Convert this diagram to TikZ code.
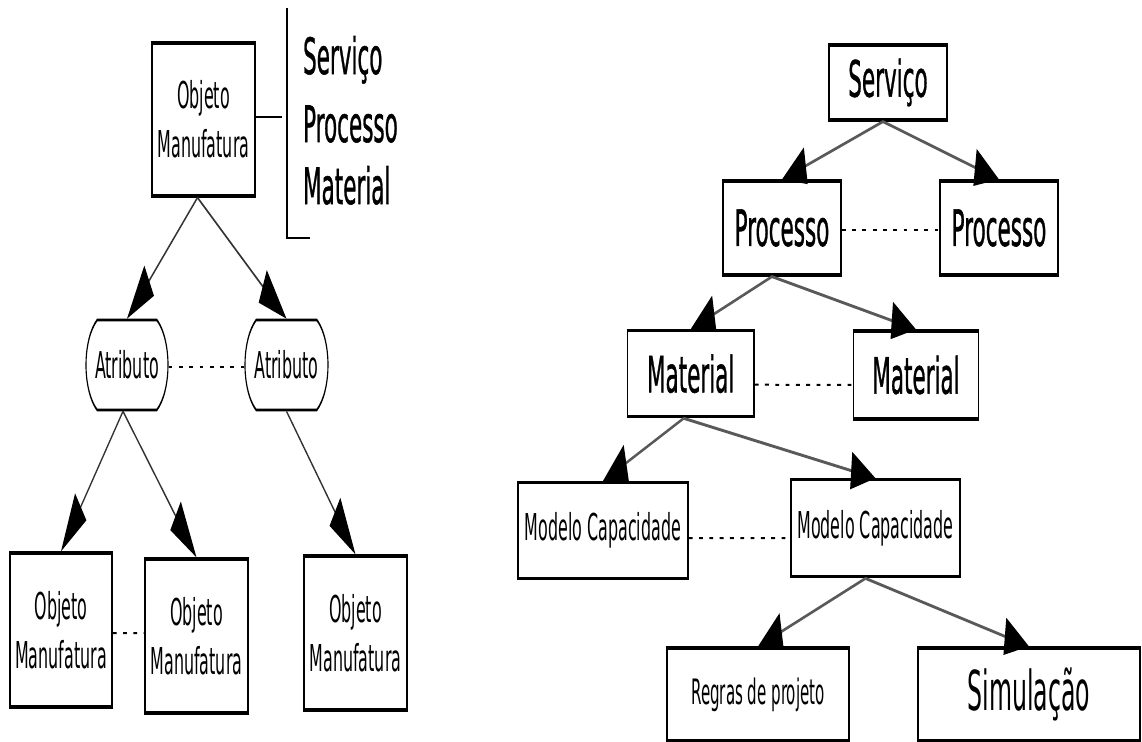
\documentclass[tikz,border=0pt]{standalone}
\usepackage{fontspec}
\setmainfont{DejaVu Sans}
\newfontfamily\heavyfont{DejaVu Sans}[FakeBold=1.2]
\usetikzlibrary{arrows.meta,shapes.misc,calc}

% horizontal compression of the whole drawing
\def\sq{0.43}

\begin{document}
\begin{tikzpicture}[
  sz/.style 2 args={minimum width={#1bp/\sq}, minimum height=#2bp},
  box/.style={draw=black, line width=3.2bp, fill=white, inner sep=0pt, align=center},
  attr/.style={rounded rectangle, rounded rectangle arc length=120, draw=black,
               line width=2.6bp, fill=white, inner sep=0pt},
  fS/.style={font=\fontsize{37bp}{49bp}\selectfont},
  fL/.style={font=\heavyfont\fontsize{50bp}{60bp}\selectfont},
  thinarrow/.style={draw=black!80, line width=2.4bp, -{Triangle[length=64bp,width=37bp,color=black]}},
  thickarrow/.style={draw=black!65, line width=3bp, -{Triangle[length=57bp,width=37bp,color=black]}},
  dots/.style={draw=black, line width=2bp, dash pattern=on 9bp off 15bp},
  bracket/.style={draw=black, line width=2.8bp},
]
\useasboundingbox (0,0) rectangle (1142bp,-742bp);

\begin{scope}[x=1bp/\sq, y=-1bp, transform canvas={xscale=\sq}]

% ---------- left tree ----------
\node[box, sz={103}{153}, fS] (om0) at (203.5,119.5) {Objeto\\Manufatura};
\node[attr, sz={82}{90}, fS] (at1) at (127,365) {Atributo};
\node[attr, sz={83}{90}, fS] (at2) at (286.5,365) {Atributo};
\node[box, sz={102}{154}, fS] (om1) at (61,630) {Objeto\\Manufatura};
\node[box, sz={103}{154}, fS] (om2) at (196.5,636) {Objeto\\Manufatura};
\node[box, sz={103}{154}, fS] (om3) at (355.5,633) {Objeto\\Manufatura};

% list beside the bracket
\node[fL, anchor=base west, inner sep=0pt] (l1) at (303,74) {Serviço};
\node[fL, anchor=base west, inner sep=0pt] (l2) at (303,142) {Processo};
\node[fL, anchor=base west, inner sep=0pt] (l3) at (303,204) {Material};

\coordinate (bt) at (287,8);
\coordinate (bb) at (287,238);
\coordinate (be) at (310,238);
\coordinate (bm) at (282,117);
\draw[bracket] (bt) -- (bb) -- (be);
\draw[bracket] (om0.east |- bm) -- (bm);

\draw[thinarrow] ($(om0.south)+(-6,0)$) -- (at1.north);
\draw[thinarrow] ($(om0.south)+(-6,0)$) -- (at2.north);
\draw[thinarrow] ($(at1.south)+(-4,0)$) -- (om1.north);
\draw[thinarrow] ($(at1.south)+(-4,0)$) -- (om2.north);
\draw[thinarrow] (at2.south) -- (om3.north);

\draw[dots] ([yshift=-2bp]at1.east) -- ([yshift=-2bp]at2.west);
\draw[dots] ([yshift=-3bp]om1.east) -- ([yshift=3bp]om2.west);

% ---------- right tree ----------
\node[box, sz={118}{75}, fL] (sv) at (888,82.5) {Serviço};
\node[box, sz={118}{94}, fL] (p1) at (782,228) {Processo};
\node[box, sz={118}{94}, fL] (p2) at (999,228) {Processo};
\node[box, sz={126.5}{86}, fL] (m1) at (690.7,373.7) {Material};
\node[box, sz={125}{88}, fL] (m2) at (916,375) {Material};
\node[box, sz={170}{96}, fS] (c1) at (603,530.5) {Modelo Capacidade};
\node[box, sz={169}{97}, fS] (c2) at (875.5,528.3) {Modelo Capacidade};
\node[box, sz={182}{93}, font=\fontsize{35bp}{40bp}\selectfont] (rg) at (758,694.5) {Regras de projeto};
\node[box, sz={222}{93}, font=\fontsize{55bp}{60bp}\selectfont] (sm) at (1029,694.5) {Simulação};

\draw[thickarrow] ($(sv.south)+(-5,0)$) -- (p1.north);
\draw[thickarrow] ($(sv.south)+(-5,0)$) -- (p2.north);
\draw[thickarrow] ($(p1.south)+(-10,0)$) -- (m1.north);
\draw[thickarrow] ($(p1.south)+(-10,0)$) -- (m2.north);
\draw[thickarrow] ($(m1.south)+(-7,0)$) -- (c1.north);
\draw[thickarrow] ($(m1.south)+(-7,0)$) -- (c2.north);
\draw[thickarrow] ($(c2.south)+(-10,0)$) -- (rg.north);
\draw[thickarrow] ($(c2.south)+(-10,0)$) -- (sm.north);

\draw[dots] ([yshift=-2bp]p1.east) -- ([yshift=-2bp]p2.west);
\draw[dots] ([yshift=-11bp]m1.east) -- ([yshift=-10bp]m2.west);
\draw[dots] ([yshift=-7.5bp]c1.east) -- ([yshift=-9.7bp]c2.west);

\end{scope}
\end{tikzpicture}
\end{document}
